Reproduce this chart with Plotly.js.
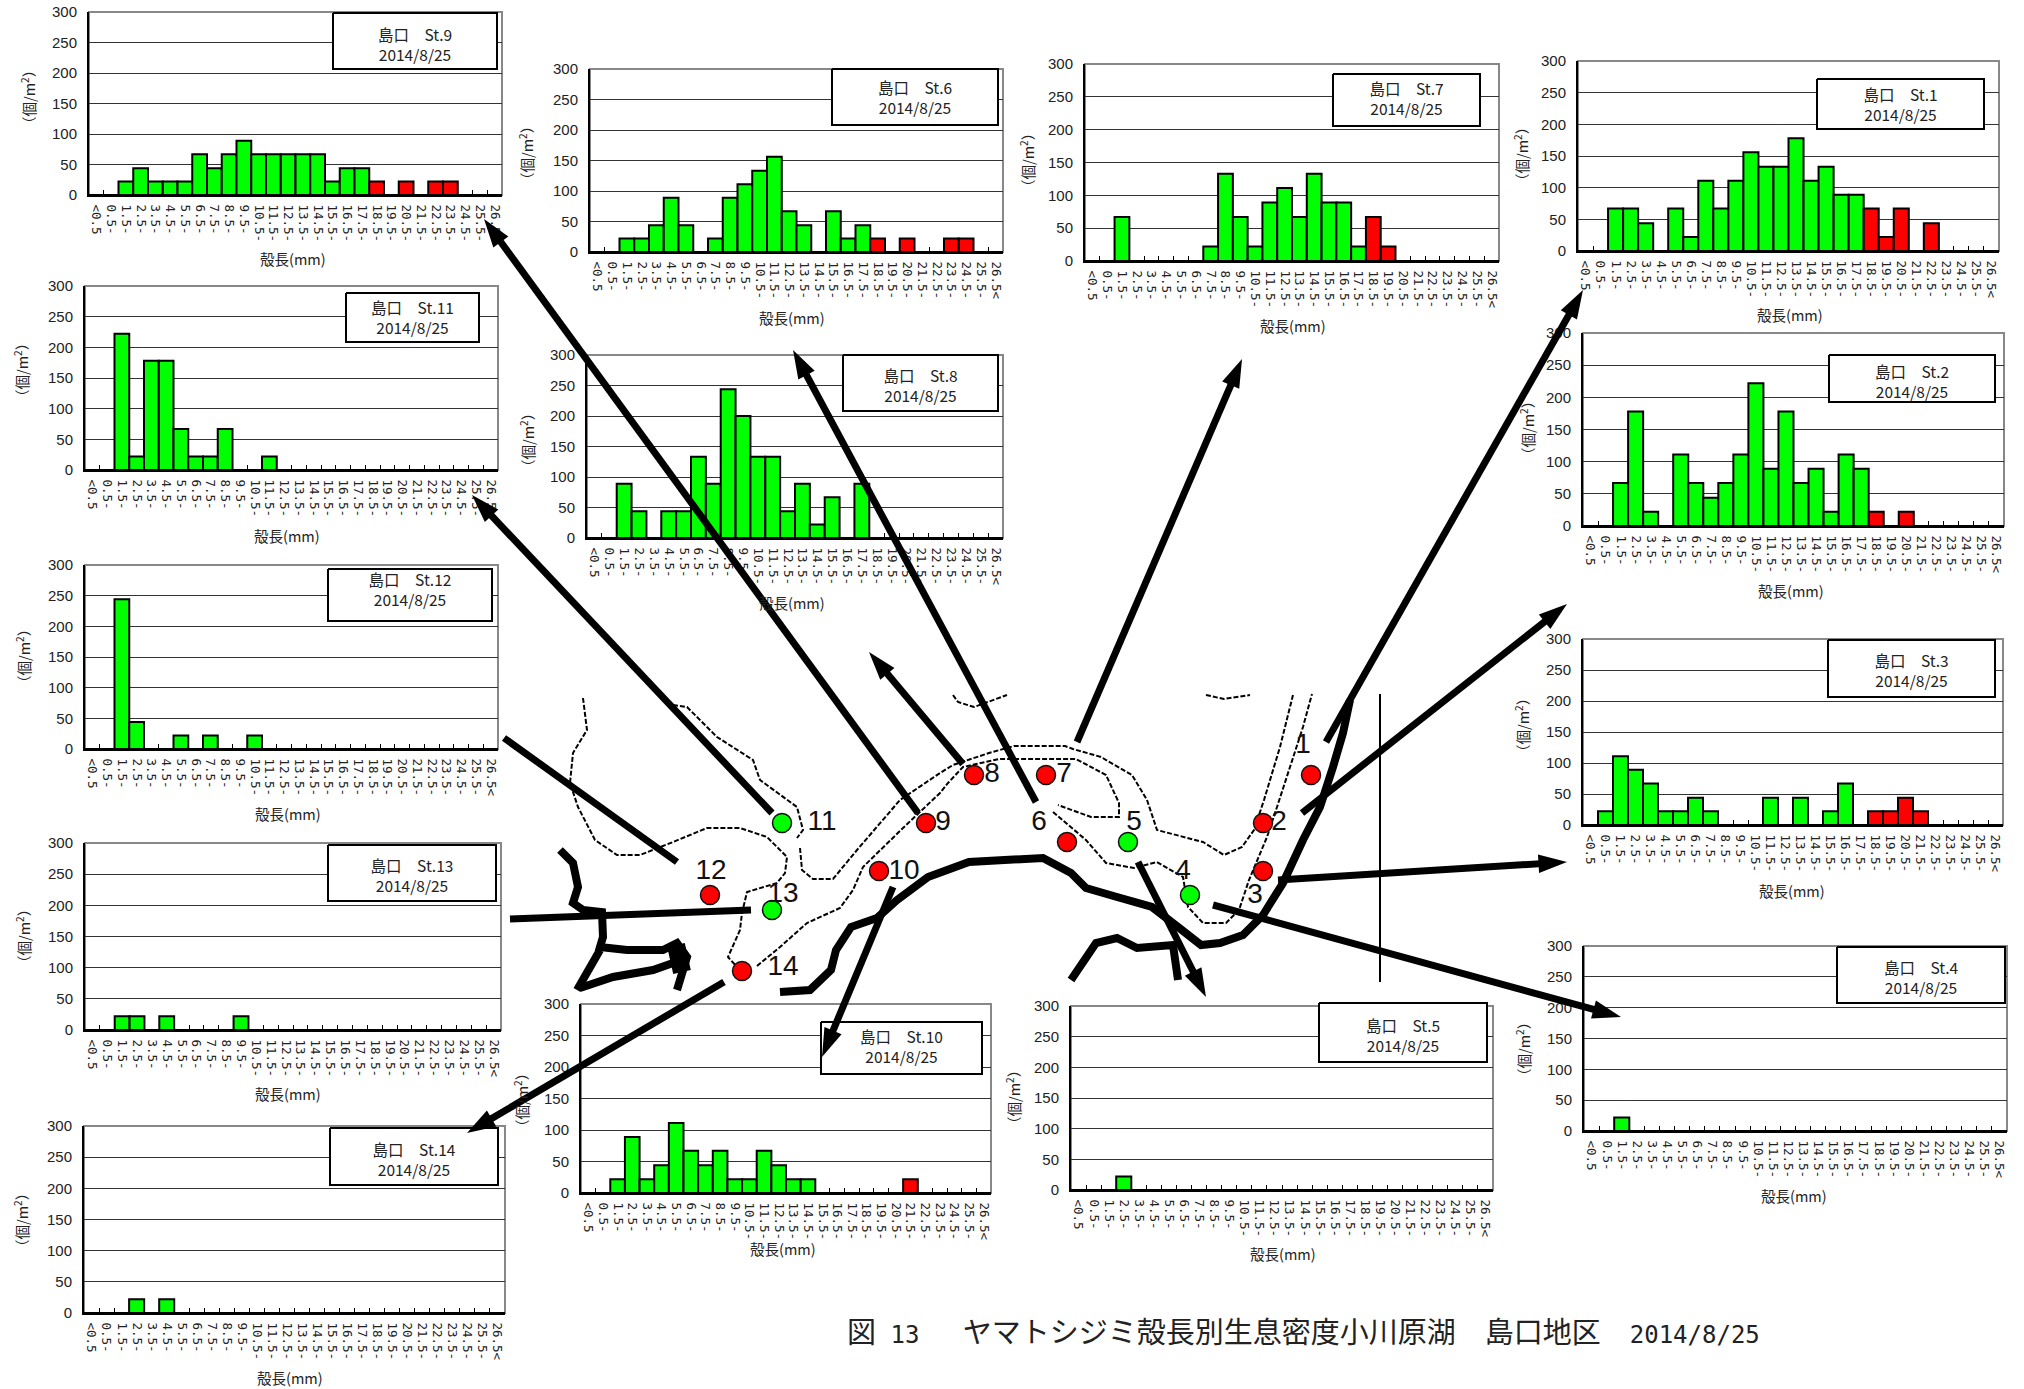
<!DOCTYPE html>
<html>
<head>
<meta charset="utf-8">
<script src="https://cdn.plot.ly/plotly-3.0.1.min.js"></script>
<style>html,body{margin:0;padding:0;background:#fff}</style>
</head>
<body>
<div id="chart" style="width:2024px;height:1389px"></div>
<script>
// size classes
const categories = ["<0.5","0.5-","1.5-","2.5-","3.5-","4.5-","5.5-","6.5-","7.5-","8.5-","9.5-","10.5-","11.5-","12.5-","13.5-","14.5-","15.5-","16.5-","17.5-","18.5-","19.5-","20.5-","21.5-","22.5-","23.5-","24.5-","25.5-","26.5<"];
const tickValuesY = [0,50,100,150,200,250,300];
const dateLabel = "2014/8/25";
const placeLabel = "島口";
const xTitle = "殻長(mm)";
const yTitle = "（個/m<sup>2</sup>）";
const latin = s => '<span style="font-size:24px">' + s + '</span>';
const caption = "図" + latin("\u00a013\u00a0\u00a0\u00a0") + "ヤマトシジミ殻長別生息密度小川原湖　島口地区　" + latin("2014/8/25");

// density per size class
const st1  = [0,0,67,67,44,0,67,22,111,67,111,156,133,133,178,111,133,89,89,67,22,67,0,44,0,0,0,0];
const st2  = [0,0,67,178,22,0,111,67,44,67,111,222,89,178,67,89,22,111,89,22,0,22,0,0,0,0,0,0];
const st3  = [0,22,111,89,67,22,22,44,22,0,0,0,44,0,44,0,22,67,0,22,22,44,22,0,0,0,0,0];
const st4  = [0,0,22,0,0,0,0,0,0,0,0,0,0,0,0,0,0,0,0,0,0,0,0,0,0,0,0,0];
const st5  = [0,0,0,22,0,0,0,0,0,0,0,0,0,0,0,0,0,0,0,0,0,0,0,0,0,0,0,0];
const st6  = [0,0,22,22,44,89,44,0,22,89,111,133,156,67,44,0,67,22,44,22,0,22,0,0,22,22,0,0];
const st7  = [0,0,67,0,0,0,0,0,22,133,67,22,89,111,67,133,89,89,22,67,22,0,0,0,0,0,0,0];
const st8  = [0,0,89,44,0,44,44,133,89,244,200,133,133,44,89,22,67,0,89,0,0,0,0,0,0,0,0,0];
const st9  = [0,0,22,44,22,22,22,67,44,67,89,67,67,67,67,67,22,44,44,22,0,22,0,22,22,0,0,0];
const st10 = [0,0,22,89,22,44,111,67,44,67,22,22,67,44,22,22,0,0,0,0,0,0,22,0,0,0,0,0];
const st11 = [0,0,222,22,178,178,67,22,22,67,0,0,22,0,0,0,0,0,0,0,0,0,0,0,0,0,0,0];
const st12 = [0,0,244,44,0,0,22,0,22,0,0,22,0,0,0,0,0,0,0,0,0,0,0,0,0,0,0,0];
const st13 = [0,0,22,22,0,22,0,0,0,0,22,0,0,0,0,0,0,0,0,0,0,0,0,0,0,0,0,0];
const st14 = [0,0,0,22,0,22,0,0,0,0,0,0,0,0,0,0,0,0,0,0,0,0,0,0,0,0,0,0];
const seriesValues = [st1,st2,st3,st4,st5,st6,st7,st8,st9,st10,st11,st12,st13,st14];
const firstRedIndex = 19;

// layout, px: plot area [left,right,top,bottom]
const plotBoxes = [
 [1578,1999,61,251],[1583,2004,333,526],[1583,2003,639,825],[1584,2007,946,1131],
 [1071,1493,1006,1190],[590,1003,69,252],[1085,1499,64,261],[587,1003,355,538],
 [89,502,12,195],[581,991,1004,1193],[85,498,286,470],[85,498,565,749],
 [85,501,843,1030],[84,505,1126,1313]];
// label boxes [x0,x1,y0,y1]
const labelBoxes = [
 [1817,1984,79,129],[1829,1995,355,402],[1828,1995,640,697],[1837,2005,947,1003],
 [1319,1487,1003,1062],[832,998,69,125],[1333,1480,74,126],[843,998,355,411],
 [333,497,13,69],[821,982,1022,1074],[346,479,293,342],[328,492,569,621],
 [328,496,845,901],[330,498,1128,1185]];
const labelTextShift = [3,6,5,5,6,3,1,5,6,1,3,-3,5,6];
const xTitlePos = [[1790,314],[1791,591],[1792,890],[1794,1195],[1283,1253],[792,317],[1293,325],[792,602],[293,258],[783,1248],[287,535],[288,813],[288,1093],[290,1377]];
const yTitlePos = [[1521,154],[1527,428],[1522,725],[1523,1049],[1013,1097],[526,153],[1027,160],[527,440],[28,97],[521,1100],[21,370],[23,656],[23,936],[21,1220]];

// survey points on the map
const dotX = [1311,1263,1263,1190,1128,1067,1046,974,926,879,782,710,772,742];
const dotY = [775,823,871,895,842,842,775,775,823,871,823,895,910,971];
const greenStations = [4,5,11,13];
const dotNameX = [1303,1279,1255,1183,1134,1039,1064,992,943,904,822,711,783,783];
const dotNameY = [746,823,896,872,823,823,775,775,823,872,823,872,895,968];

// arrows: [fromX,fromY,toX,toY,hasHead]
const arrows = [
 [1326,742,1583,290,1],[1302,813,1567,604,1],[1278,880,1567,862,1],[1213,905,1621,1017,1],
 [1138,862,1206,997,1],[1036,802,793,350,1],[1077,742,1242,359,1],[963,764,869,652,1],
 [918,813,484,219,1],[893,887,822,1057,1],[772,813,472,495,1],[677,862,504,738,0],
 [751,910,510,919,0],[724,982,467,1133,1]];

// map outlines
const thickLines = [
 [[780,992],[810,990],[831,970],[836,950],[851,927],[877,918],[897,900],[928,877],[969,862],[1009,860],[1043,858],[1071,873],[1086,888],[1117,897],[1152,907],[1178,927],[1201,945],[1220,943],[1243,935],[1263,915],[1283,883],[1303,840],[1320,807],[1333,767],[1343,733],[1350,700]],
 [[560,850],[573,863],[578,887],[573,903],[583,910],[602,912],[603,937],[600,947],[627,950],[663,950],[677,943],[687,957],[677,990]],
 [[600,950],[590,967],[577,990]],
 [[580,988],[613,977],[653,970],[673,963]],
 [[1071,980],[1096,943],[1117,938],[1137,948],[1173,945],[1178,980]]];
const blockLines = [[[676,945],[682,972]]];
const dashedLines = [
 [[583,698],[587,730],[573,753],[570,783],[578,807],[595,840],[617,855],[640,855],[673,842],[707,828],[740,828],[767,837],[787,857],[785,873],[777,883],[747,892],[742,913],[740,930],[728,957],[737,967]],
 [[673,705],[687,707],[717,737],[753,760],[760,780],[797,807],[803,830],[797,838]],
 [[800,848],[802,870],[813,879],[833,879],[857,850],[900,800],[940,773],[953,765],[989,753],[1014,746],[1065,746],[1073,749],[1101,757],[1132,775],[1147,800],[1157,830],[1203,842],[1224,855],[1242,847],[1254,830],[1264,800],[1280,747],[1293,695]],
 [[757,966],[780,947],[807,923],[840,908],[853,890],[863,867],[903,828],[940,793],[948,783],[963,767],[999,759],[1076,759],[1106,775],[1119,803],[1119,817],[1091,817],[1058,805]],
 [[1053,812],[1086,840],[1106,863],[1134,868],[1157,862],[1183,877],[1188,907],[1203,923],[1226,923],[1239,910],[1249,880],[1267,837],[1277,807],[1290,767],[1303,727],[1312,694]],
 [[953,695],[958,702],[974,707],[1007,695]],
 [[1206,695],[1224,699],[1250,695]]];
const verticalLine = [[1380,694],[1380,982]];

const W = 2024, H = 1389;
const px = v => v / W, py = v => 1 - v / H;
const FONT = '"Liberation Sans", Arial, sans-serif';
const CJK = '"Noto Sans CJK JP", sans-serif';
const MONO = '"DejaVu Sans Mono", monospace';

const data = [], shapes = [], annotations = [];
const layout = {
  width: W, height: H, margin: {l:0,r:0,t:0,b:0, pad:0}, autosize:false,
  paper_bgcolor:'#fff', plot_bgcolor:'rgba(0,0,0,0)', showlegend:false, hovermode:false,
  bargap:0, dragmode:false
};

seriesValues.forEach((vals,i) => {
  const n = i+1, sfx = n===1 ? '' : String(n);
  const [l,r,t,b] = plotBoxes[i];
  data.push({
    type:'bar', x:categories, y:vals, xaxis:'x'+sfx, yaxis:'y'+sfx, name:'St.'+n,
    marker:{color:vals.map((v,k)=> k>=firstRedIndex ? '#ff0000' : '#00ff00'), line:{color:'#000',width:2}}
  });
  layout['xaxis'+sfx] = {
    domain:[px(l),px(r)], anchor:'y'+sfx, type:'category',
    categoryorder:'array', categoryarray:categories, range:[-0.5,27.5],
    tickson:'boundaries', ticks:'inside', ticklen:5, tickwidth:1, tickcolor:'#000',
    tickmode:'array', tickvals:categories, ticktext:categories,
    tickangle:90, tickfont:{family:MONO,size:12.5,color:'#222'}, ticklabelstandoff:5,
    showline:true, linecolor:'#000', linewidth:2, showgrid:false, zeroline:false, fixedrange:true
  };
  layout['yaxis'+sfx] = {
    domain:[py(b),py(t)], anchor:'x'+sfx, range:[0,300],
    tickmode:'array', tickvals:tickValuesY, ticks:'', ticklabelstandoff:7,
    tickfont:{family:FONT,size:15,color:'#222'},
    showline:true, linecolor:'#000', linewidth:2,
    showgrid:true, gridcolor:'#333', gridwidth:1, zeroline:false, fixedrange:true
  };
  shapes.push({type:'rect',xref:'paper',yref:'paper',x0:px(l),x1:px(r),y0:py(b),y1:py(t),layer:'below',line:{color:'#888',width:2},fillcolor:'#fff'});
  annotations.push({xref:'paper',yref:'paper',x:px(xTitlePos[i][0]),y:py(xTitlePos[i][1]),text:xTitle,showarrow:false,xanchor:'center',yanchor:'middle',font:{family:CJK,size:14.5,color:'#222'}});
  annotations.push({xref:'paper',yref:'paper',x:px(yTitlePos[i][0]),y:py(yTitlePos[i][1]),text:yTitle,textangle:-90,showarrow:false,xanchor:'center',yanchor:'middle',font:{family:CJK,size:14.5,color:'#222'}});
});

// overlay in page pixels
const OX='x15', OY='y15';
const overlay = t => Object.assign({type:'scatter',xaxis:OX,yaxis:OY}, t);
const lineTrace = (pts, line) => overlay({mode:'lines',x:pts.map(p=>p[0]),y:pts.map(p=>p[1]),line});
layout.xaxis15 = {domain:[0,1],range:[0,W],anchor:OY,visible:false,fixedrange:true};
layout.yaxis15 = {domain:[0,1],range:[H,0],anchor:OX,visible:false,fixedrange:true};

labelBoxes.forEach(b => {
  data.push(overlay({mode:'lines',x:[b[0],b[1],b[1],b[0],b[0]],y:[b[2],b[2],b[3],b[3],b[2]],
    fill:'toself',fillcolor:'#fff',line:{color:'#000',width:2}}));
});
data.push(overlay({mode:'text',
  x:labelBoxes.map(b=>(b[0]+b[1])/2), y:labelBoxes.map((b,i)=>(b[2]+b[3])/2+labelTextShift[i]),
  text:labelBoxes.map((b,i)=>placeLabel+'　St.'+(i+1)+'<br>'+dateLabel),
  textposition:'middle center', textfont:{family:CJK,size:15.5,color:'#222'}}));
dashedLines.forEach(l=>data.push(lineTrace(l,{color:'#000',width:2,dash:'5px,2px'})));
thickLines.forEach(l=>data.push(lineTrace(l,{color:'#000',width:8})));
blockLines.forEach(l=>data.push(lineTrace(l,{color:'#000',width:18})));
data.push(lineTrace(verticalLine,{color:'#000',width:2}));

// arrows: shaft stops short of the tip, head is a marker at the tip
const HEAD = 18;
arrows.forEach(a=>{
  const dx=a[2]-a[0], dy=a[3]-a[1], len=Math.hypot(dx,dy), cut=a[4]?HEAD:0;
  data.push(lineTrace([[a[0],a[1]],[a[2]-dx/len*cut,a[3]-dy/len*cut]],{color:'#000',width:7}));
});
const headed = arrows.filter(a=>a[4]);
data.push(overlay({mode:'markers',x:headed.map(a=>a[2]),y:headed.map(a=>a[3]),
  marker:{symbol:'arrow',size:30,color:'#000',line:{width:0},
    angle:headed.map(a=>Math.atan2(a[2]-a[0],a[1]-a[3])*180/Math.PI)}}));

data.push(overlay({mode:'markers',x:dotX,y:dotY,
  marker:{size:19,color:dotX.map((_,i)=>greenStations.includes(i+1)?'#00ff00':'#ff0000'),line:{color:'#111',width:1.5}}}));
data.push(overlay({mode:'text',x:dotNameX,y:dotNameY,text:dotX.map((_,i)=>String(i+1)),
  textposition:'middle center',textfont:{family:FONT,size:28,color:'#111'}}));

annotations.push({xref:'paper',yref:'paper',x:px(1303),y:py(1333),text:caption,showarrow:false,xanchor:'center',yanchor:'middle',
  font:{family:'"DejaVu Sans Mono","Noto Sans CJK JP",monospace',size:29,color:'#222'}});

layout.shapes = shapes;
layout.annotations = annotations;
Plotly.newPlot('chart',data,layout,{displayModeBar:false,staticPlot:true});
</script>
</body>
</html>
